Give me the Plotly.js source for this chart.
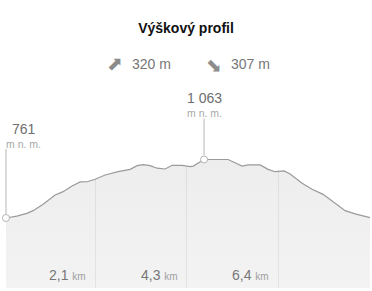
<!DOCTYPE html>
<html>
<head>
<meta charset="utf-8">
<script src="https://cdn.plot.ly/plotly-3.0.1.min.js"></script>
<style>
  html, body { margin: 0; padding: 0; background: #fff; }
  #chart { width: 372px; height: 291px; }
</style>
</head>
<body>
<div id="chart"></div>
<script>
// Route profile: distance along the route (km) and elevation (m n. m.)
const distanceKm = [0, 0.255, 0.491, 0.639, 0.875, 1.157, 1.345, 1.557, 1.746, 1.910,
  2.099, 2.334, 2.640, 2.923, 3.087, 3.229, 3.393, 3.558, 3.746, 3.911,
  4.146, 4.335, 4.406, 4.523, 4.664, 4.759, 5.229, 5.394, 5.559, 5.700,
  5.983, 6.171, 6.336, 6.548, 6.689, 6.972, 7.207, 7.466, 7.701, 7.984,
  8.219, 8.525, 8.57];
const elevationM = [761, 771, 785, 799, 832, 880, 897, 926, 947, 948,
  961, 983, 1000, 1012, 1031, 1036, 1031, 1018, 1014, 1033,
  1033, 1026, 1029, 1046, 1063, 1063, 1063, 1046, 1029, 1035,
  1035, 1012, 1000, 1004, 988, 940, 909, 883, 845, 799,
  782, 765, 763];

// Distance markers along the bottom
const gridKm = [2.1, 4.26, 6.41];
const gridLabels = ['2,1', '4,3', '6,4'];

// Totals shown in the header
const ascentM = 320;
const descentM = 307;

const titleText = 'Výškový profil';
const unitElev = 'm n. m.';

const xRange = [-0.07, 8.57];
const yRange = [399.7, 1421.7];

const fmt = v => String(Math.round(v)).replace(/\B(?=(\d{3})+(?!\d))/g, '\u00a0');

const startIdx = 0;
let peakIdx = 0;
elevationM.forEach((v, i) => { if (v > elevationM[peakIdx]) peakIdx = i; });

const lineGray = '#9a9a9a';

const traces = [
  // upper boundary of the plot area, used to whiten the grid above the profile
  { x: distanceKm, y: distanceKm.map(() => yRange[1]), mode: 'lines',
    line: { width: 0 }, hoverinfo: 'skip', showlegend: false },
  { x: distanceKm, y: elevationM, mode: 'lines', fill: 'tonexty',
    fillcolor: '#ffffff', line: { width: 0 }, hoverinfo: 'skip', showlegend: false },
  // the elevation profile itself
  { x: distanceKm, y: elevationM, mode: 'lines', fill: 'tozeroy',
    fillgradient: { type: 'vertical',
      colorscale: [[0, 'rgba(0,0,0,0.035)'], [1, 'rgba(0,0,0,0.07)']] },
    line: { color: lineGray, width: 1.2, shape: 'linear' },
    hoverinfo: 'skip', showlegend: false },
  // start and summit points
  { x: [distanceKm[startIdx], distanceKm[peakIdx]],
    y: [elevationM[startIdx], elevationM[peakIdx]],
    mode: 'markers', cliponaxis: false,
    marker: { size: 7, color: '#ffffff', line: { color: '#b4b4b4', width: 1 } },
    hoverinfo: 'skip', showlegend: false }
];

const stemColor = '#d2d2d2';
const shapes = [
  { type: 'line', xref: 'x', yref: 'y', ysizemode: 'pixel',
    x0: distanceKm[startIdx], x1: distanceKm[startIdx], yanchor: elevationM[startIdx],
    y0: 4, y1: 69, line: { color: stemColor, width: 1.6 }, layer: 'above' },
  { type: 'line', xref: 'x', yref: 'y', ysizemode: 'pixel',
    x0: distanceKm[peakIdx], x1: distanceKm[peakIdx], yanchor: elevationM[peakIdx],
    y0: 4, y1: 41, line: { color: stemColor, width: 1.6 }, layer: 'above' }
];

const baseFont = 'Liberation Sans, Arial, sans-serif';
const arrowFont = { family: 'DejaVu Sans', size: 19, color: '#8c8c8c' };
const annotations = [];

// header: ascent / descent
annotations.push(
  { xref: 'paper', yref: 'paper', x: 0.305, y: 1.135, xanchor: 'center', yanchor: 'middle',
    text: '⬈', showarrow: false, font: arrowFont },
  { xref: 'paper', yref: 'paper', x: 0.346, y: 1.131, xanchor: 'left', yanchor: 'middle',
    text: ascentM + ' m', showarrow: false, font: { family: baseFont, size: 14, color: '#777' } },
  { xref: 'paper', yref: 'paper', x: 0.575, y: 1.127, xanchor: 'center', yanchor: 'middle',
    text: '⬊', showarrow: false, font: arrowFont },
  { xref: 'paper', yref: 'paper', x: 0.616, y: 1.131, xanchor: 'left', yanchor: 'middle',
    text: descentM + ' m', showarrow: false, font: { family: baseFont, size: 14, color: '#777' } }
);

// elevation callouts
function callout(i, dx, dyNum, dyUnit) {
  annotations.push(
    { xref: 'x', yref: 'y', x: distanceKm[i], y: elevationM[i], xshift: dx, yshift: dyNum,
      xanchor: 'center', yanchor: 'middle', text: fmt(elevationM[i]), showarrow: false,
      font: { family: baseFont, size: 14, color: '#6e6e6e' } },
    { xref: 'x', yref: 'y', x: distanceKm[i], y: elevationM[i], xshift: dx, yshift: dyUnit,
      xanchor: 'center', yanchor: 'middle', text: unitElev, showarrow: false,
      font: { family: baseFont, size: 10.5, color: '#a8a8a8' } }
  );
}
callout(startIdx, 18, 89, 74);
callout(peakIdx, 0.5, 61, 46);

// distance labels
gridKm.forEach((k, i) => {
  annotations.push({
    xref: 'x', yref: 'paper', x: k, y: 0, xshift: -7, yshift: 13,
    xanchor: 'right', yanchor: 'middle', showarrow: false,
    text: gridLabels[i] + ' <span style="font-size:10px;fill:#a0a0a0">km</span>',
    font: { family: baseFont, size: 14, color: '#777' }
  });
});

const layout = {
  width: 372, height: 291,
  margin: { l: 3, r: 2, t: 90, b: 3, pad: 0 },
  paper_bgcolor: '#ffffff', plot_bgcolor: '#ffffff',
  title: { text: '<b>' + titleText + '</b>', xref: 'container', yref: 'container',
    x: 0.5, y: 1 - 28 / 291, xanchor: 'center', yanchor: 'middle',
    font: { family: baseFont, size: 14, color: '#111' } },
  xaxis: { range: xRange, tickvals: gridKm, showticklabels: false, ticks: '',
    showgrid: true, gridcolor: '#eeeeee', gridwidth: 1, zeroline: false, showline: false,
    fixedrange: true },
  yaxis: { range: yRange, showgrid: false, showticklabels: false, ticks: '',
    zeroline: false, showline: false, fixedrange: true },
  shapes: shapes,
  annotations: annotations,
  showlegend: false
};

Plotly.newPlot('chart', traces, layout, { displayModeBar: false, staticPlot: true });
</script>
</body>
</html>
